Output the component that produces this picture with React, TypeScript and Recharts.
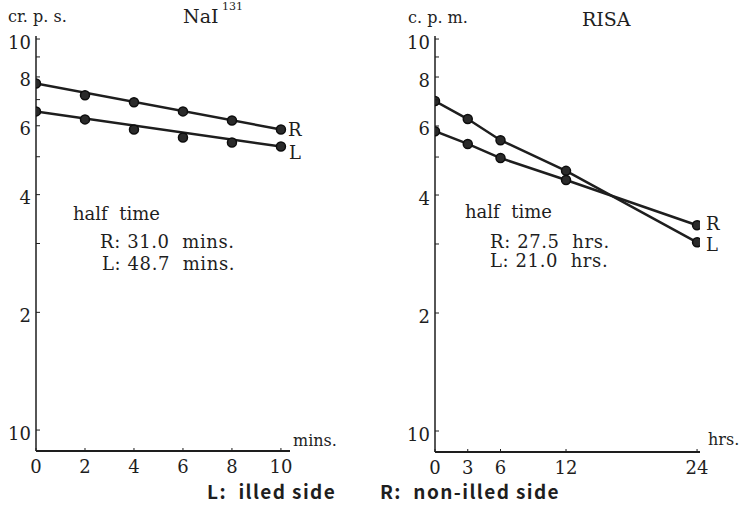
import React from 'react';
import { LineChart, Line, XAxis, YAxis } from 'recharts';

// NaI-131 panel (minutes)
const naiTimes = [0, 2, 4, 6, 8, 10];
const naiR = [7.7, 7.18, 6.89, 6.53, 6.19, 5.87];
const naiL = [6.53, 6.23, 5.87, 5.6, 5.44, 5.31];
const naiXTicks = [0, 2, 4, 6, 8, 10];

// RISA panel (hours)
const risaTimes = [0, 3, 6, 12, 24];
const risaR = [5.82, 5.4, 4.97, 4.37, 3.35];
const risaL = [6.95, 6.25, 5.52, 4.61, 3.03];
const risaXTicks = [0, 3, 6, 12, 24];

const yTicks = [1, 2, 3, 4, 5, 6, 7, 8, 9, 10];
const yLabels: Record<number, string> = { 1: '10', 2: '2', 4: '4', 6: '6', 8: '8', 10: '10' };

const INK = '#1e1e1e';
const SERIF = '"DejaVu Serif", serif';
const GOTHIC = '"Noto Sans CJK JP", sans-serif';

const toRows = (t: number[], v: number[]) => t.map((x, i) => ({ t: x, v: v[i] }));
// straight line drawn through first and last measurement
const endPoints = (t: number[], v: number[]) => [
    { t: t[0], v: v[0] },
    { t: t[t.length - 1], v: v[v.length - 1] },
];

const YTick = (props: any) => {
    const { x, y, payload } = props;
    const label = yLabels[payload.value];
    return (
        <g>
            <line x1={x} x2={x + 4} y1={y} y2={y} stroke={INK} strokeWidth={1} />
            {label && (
                <text x={x - 5} y={y + 3} textAnchor="end" dominantBaseline="central"
                    fontFamily={SERIF} fontSize={18} fill={INK}>
                    {label}
                </text>
            )}
        </g>
    );
};

const XTick = (props: any) => {
    const { x, y, payload } = props;
    return (
        <g>
            <line x1={x} x2={x} y1={y} y2={y - 3} stroke={INK} strokeWidth={1} />
            <text x={x} y={y + 15} textAnchor="middle" dominantBaseline="central"
                fontFamily={SERIF} fontSize={18} fill={INK}>
                {payload.value}
            </text>
        </g>
    );
};

const Dot = (props: any) => {
    const { cx, cy } = props;
    if (cx == null || cy == null) return null;
    return <circle cx={cx} cy={cy} r={4.5} fill="#2a2a2a" stroke="#0d0d0d" strokeWidth={1.5} />;
};

const endLabel = (text: string, last: number, dx: number, dy: number) => (props: any) => {
    const { x, y, index } = props;
    if (index !== last) return null;
    return (
        <text x={x + dx} y={y + dy} dominantBaseline="central"
            fontFamily={SERIF} fontSize={18} fill={INK}>
            {text}
        </text>
    );
};

const txt = (left: number, top: number, s: string, size = 18, extra: React.CSSProperties = {}) => (
    <div style={{
        position: 'absolute', left, top, fontSize: size, fontFamily: SERIF, color: INK,
        whiteSpace: 'pre', lineHeight: 1, ...extra,
    }}>{s}</div>
);

export default function App() {
    const naiRFit = endPoints(naiTimes, naiR);
    const naiLFit = endPoints(naiTimes, naiL);
    const risaRRows = toRows(risaTimes, risaR);
    const risaLRows = toRows(risaTimes, risaL);

    return (
        <div style={{ position: 'absolute', left: 0, top: 0, width: 741, height: 506, background: '#fff', overflow: 'hidden' }}>
            <div style={{ position: 'absolute', left: 0, top: 0 }}>
                <LineChart width={370} height={506} margin={{ top: 36, right: 80, bottom: 25, left: 0 }}>
                    <XAxis type="number" dataKey="t" domain={[0, 10.37]} ticks={naiXTicks}
                        allowDataOverflow height={30} tickSize={0} tickMargin={0}
                        axisLine={{ stroke: INK, strokeWidth: 2 }} tickLine={false} tick={<XTick />} />
                    <YAxis type="number" dataKey="v" scale="log" domain={[0.884, 10.18]} ticks={yTicks}
                        allowDataOverflow width={36} tickSize={0} tickMargin={0} interval={0}
                        axisLine={{ stroke: INK, strokeWidth: 1.5 }} tickLine={false} tick={<YTick />} />
                    <Line data={naiRFit} dataKey="v" stroke={INK} strokeWidth={2.5} dot={false}
                        isAnimationActive={false} label={endLabel('R', 1, 7, 0)} />
                    <Line data={naiLFit} dataKey="v" stroke={INK} strokeWidth={2.5} dot={false}
                        isAnimationActive={false} label={endLabel('L', 1, 8, 6)} />
                    <Line data={toRows(naiTimes, naiR)} dataKey="v" stroke="none" dot={<Dot />}
                        isAnimationActive={false} />
                    <Line data={toRows(naiTimes, naiL)} dataKey="v" stroke="none" dot={<Dot />}
                        isAnimationActive={false} />
                </LineChart>
            </div>
            <div style={{ position: 'absolute', left: 370, top: 0 }}>
                <LineChart width={371} height={506} margin={{ top: 36, right: 41, bottom: 24, left: 0 }}>
                    <XAxis type="number" dataKey="t" domain={[0, 24.27]} ticks={risaXTicks}
                        allowDataOverflow height={30} tickSize={0} tickMargin={0}
                        axisLine={{ stroke: INK, strokeWidth: 2 }} tickLine={false} tick={<XTick />} />
                    <YAxis type="number" dataKey="v" scale="log" domain={[0.884, 10.18]} ticks={yTicks}
                        allowDataOverflow width={65} tickSize={0} tickMargin={0} interval={0}
                        axisLine={{ stroke: INK, strokeWidth: 1.5 }} tickLine={false} tick={<YTick />} />
                    <Line data={risaRRows} dataKey="v" stroke={INK} strokeWidth={2.5} dot={<Dot />}
                        isAnimationActive={false} label={endLabel('R', risaRRows.length - 1, 9, -2)} />
                    <Line data={risaLRows} dataKey="v" stroke={INK} strokeWidth={2.5} dot={<Dot />}
                        isAnimationActive={false} label={endLabel('L', risaLRows.length - 1, 9, 2)} />
                </LineChart>
            </div>

            {txt(8, 9, 'cr. p. s.', 16)}
            {txt(183, 7, 'NaI', 19)}
            {txt(222, 1, '131', 11)}
            {txt(73, 205, 'half  time')}
            {txt(100, 233, 'R: 31.0  mins.', 18, { letterSpacing: 0.6 })}
            {txt(102, 255, 'L: 48.7  mins.', 18, { letterSpacing: 0.6 })}
            {txt(293, 433, 'mins.', 16)}

            {txt(408, 10, 'c. p. m.', 16)}
            {txt(582, 10, 'RISA', 19)}
            {txt(465, 203, 'half  time')}
            {txt(490, 233, 'R: 27.5  hrs.', 18, { letterSpacing: 0.6 })}
            {txt(490, 252, 'L: 21.0  hrs.', 18, { letterSpacing: 0.6 })}
            {txt(708, 432, 'hrs.', 16)}

            {txt(207, 481, 'L:  illed side', 19, { fontFamily: GOTHIC, fontWeight: 700, letterSpacing: 1.4, lineHeight: 1.1 })}
            {txt(380, 481, 'R:  non-illed side', 19, { fontFamily: GOTHIC, fontWeight: 700, letterSpacing: 1.4, lineHeight: 1.1 })}
        </div>
    );
}
